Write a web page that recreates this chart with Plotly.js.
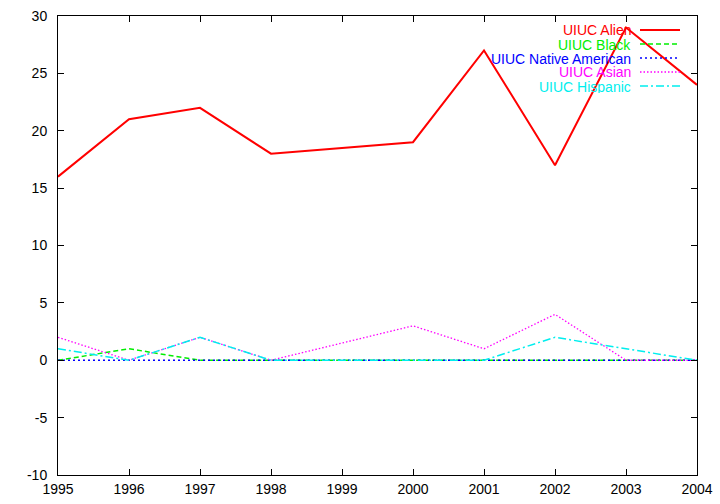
<!DOCTYPE html>
<html>
<head>
<meta charset="utf-8">
<script src="https://cdn.plot.ly/plotly-3.0.1.min.js"></script>
<style>html,body{margin:0;padding:0;background:#fff;}#chart{width:720px;height:504px;}</style>
</head>
<body>
<div id="chart"></div>
<script>
const years = [1995, 1996, 1997, 1998, 2000, 2001, 2002, 2003, 2004];
const seriesNames = ["UIUC Alien", "UIUC Black", "UIUC Native American", "UIUC Asian", "UIUC Hispanic"];
const alien = [16, 21, 22, 18, 19, 27, 17, 29, 24];
const black = [0, 1, 0, 0, 0, 0, 0, 0, 0];
const nativeAmerican = [0, 0, 0, 0, 0, 0, 0, 0, 0];
const asian = [2, 0, 2, 0, 3, 1, 4, 0, 0];
const hispanic = [1, 0, 2, 0, 0, 0, 2, 1, 0];
const xTicks = [1995, 1996, 1997, 1998, 1999, 2000, 2001, 2002, 2003, 2004];
const yTicks = [-10, -5, 0, 5, 10, 15, 20, 25, 30];

const values = [alien, black, nativeAmerican, asian, hispanic];
const colors = ["#ff0000", "#00ee00", "#0000ff", "#ff00ff", "#00eeee"];
const dashes = ["solid", "5px,3px", "2px,3px", "1.5px,2px", "8px,3px,2px,3px"];
const widths = [2, 1.5, 1.5, 1.3, 1.5];

const traces = values.map((v, i) => ({
  x: years, y: v, type: "scatter", mode: "lines", name: seriesNames[i],
  line: {color: colors[i], dash: dashes[i], width: widths[i]},
  showlegend: false, hoverinfo: "skip"
}));

// gnuplot-style key: right-aligned text, sample line to its right
const annotations = [], shapes = [];
seriesNames.forEach((n, i) => {
  const py = 30 + 14 * i;
  const yp = (475 - py) / 459;
  annotations.push({
    xref: "paper", yref: "paper", x: 0.8983, y: yp, xanchor: "right", yanchor: "middle",
    height: 13, borderpad: 0, valign: "middle",
    text: n, showarrow: false, font: {family: "Liberation Sans, Arial, sans-serif", size: 14, color: colors[i]}
  });
  shapes.push({
    type: "line", xref: "paper", yref: "paper", x0: 0.9108, x1: 0.9734, y0: yp, y1: yp,
    line: {color: colors[i], dash: dashes[i], width: widths[i]}
  });
});

const axisCommon = {
  showgrid: false, zeroline: false, showline: true, linecolor: "#000", linewidth: 1,
  mirror: "ticks", ticks: "inside", ticklen: 6, tickcolor: "#000", tickwidth: 1,
  tickfont: {family: "Liberation Sans, Arial, sans-serif", size: 14, color: "#000"}
};

const layout = {
  width: 720, height: 504,
  margin: {l: 58, r: 23, t: 16, b: 29, pad: 0},
  paper_bgcolor: "#fff", plot_bgcolor: "#fff",
  xaxis: Object.assign({}, axisCommon, {range: [1995, 2004], tickvals: xTicks, ticktext: xTicks.map(String), ticklabelstandoff: 1}),
  yaxis: Object.assign({}, axisCommon, {range: [-10, 30], tickvals: yTicks, ticktext: yTicks.map(String), ticklabelstandoff: 7}),
  annotations: annotations, shapes: shapes, showlegend: false
};

Plotly.newPlot("chart", traces, layout, {staticPlot: true, displayModeBar: false});
</script>
</body>
</html>
